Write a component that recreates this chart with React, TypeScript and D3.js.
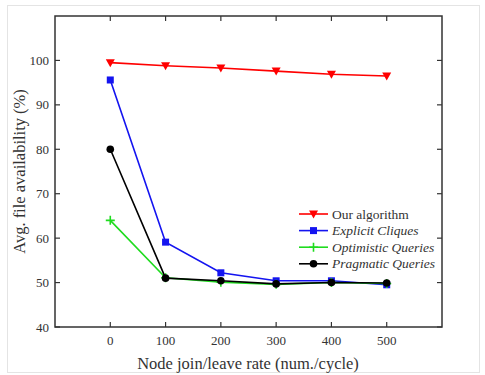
import * as d3 from "d3"
import { useEffect, useRef } from "react"

const rates = [0, 100, 200, 300, 400, 500]
const ourAlgorithm = [99.5, 98.8, 98.3, 97.6, 96.9, 96.5]
const explicitCliques = [95.6, 59.1, 52.2, 50.4, 50.4, 49.5]
const optimisticQueries = [64, 51.1, 50.1, 49.6, 50, 49.8]
const pragmaticQueries = [80, 51, 50.4, 49.7, 50, 49.9]
const yTicks = [40, 50, 60, 70, 80, 90, 100]

const series = [
  { name: "Our algorithm", values: ourAlgorithm, color: "#ff0000", marker: "tri", italic: false },
  { name: "Explicit Cliques", values: explicitCliques, color: "#1414f0", marker: "square", italic: true },
  { name: "Optimistic Queries", values: optimisticQueries, color: "#1fdc1f", marker: "plus", italic: true },
  { name: "Pragmatic Queries", values: pragmaticQueries, color: "#000000", marker: "circle", italic: true }
]

const App = () => {
  const svgRef = useRef<SVGSVGElement | null>(null)

  useEffect(() => {
    if (!svgRef.current) return
    const svg = d3.select(svgRef.current)
    svg.selectAll("*").remove()

    const left = 55
    const right = 442
    const top = 16
    const bottom = 327
    const font = "'Liberation Serif', 'Times New Roman', serif"
    const textColor = "#333"

    const x = d3.scaleLinear().domain([-100, 600]).range([left, right])
    const y = d3.scaleLinear().domain([40, 110]).range([bottom, top])

    // faint outer border of the figure
    svg
      .append("rect")
      .attr("x", 7.5)
      .attr("y", 5.5)
      .attr("width", 472)
      .attr("height", 367)
      .attr("fill", "none")
      .attr("stroke", "#e4e4e4")

    // ticks on all four sides, pointing inward
    const tickLen = 5
    const g = svg.append("g").attr("stroke", "#333").attr("stroke-width", 1.2)
    rates.forEach(r => {
      g.append("line").attr("x1", x(r)).attr("x2", x(r)).attr("y1", bottom).attr("y2", bottom - tickLen)
      g.append("line").attr("x1", x(r)).attr("x2", x(r)).attr("y1", top).attr("y2", top + tickLen)
    })
    yTicks.forEach(v => {
      g.append("line").attr("x1", left).attr("x2", left + tickLen).attr("y1", y(v)).attr("y2", y(v))
      g.append("line").attr("x1", right).attr("x2", right - tickLen).attr("y1", y(v)).attr("y2", y(v))
    })

    // frame
    svg
      .append("rect")
      .attr("x", left)
      .attr("y", top)
      .attr("width", right - left)
      .attr("height", bottom - top)
      .attr("fill", "none")
      .attr("stroke", "#333")
      .attr("stroke-width", 1.5)

    // tick labels
    svg
      .append("g")
      .selectAll("text")
      .data(rates)
      .enter()
      .append("text")
      .attr("x", d => x(d))
      .attr("y", 345)
      .attr("text-anchor", "middle")
      .style("font-family", font)
      .style("font-size", "13px")
      .style("fill", textColor)
      .text(d => d)

    svg
      .append("g")
      .selectAll("text")
      .data(yTicks)
      .enter()
      .append("text")
      .attr("x", 49)
      .attr("y", d => y(d) + 4.5)
      .attr("text-anchor", "end")
      .style("font-family", font)
      .style("font-size", "13px")
      .style("fill", textColor)
      .text(d => d)

    // axis titles
    svg
      .append("text")
      .attr("x", 248)
      .attr("y", 369)
      .attr("text-anchor", "middle")
      .style("font-family", font)
      .style("font-size", "16.5px")
      .style("fill", textColor)
      .text("Node join/leave rate (num./cycle)")

    svg
      .append("text")
      .attr("transform", `translate(25,${(top + bottom) / 2}) rotate(-90)`)
      .attr("text-anchor", "middle")
      .style("font-family", font)
      .style("font-size", "16.5px")
      .style("fill", textColor)
      .text("Avg. file availability (%)")

    const line = d3
      .line<number>()
      .x((_d, i) => x(rates[i]))
      .y(d => y(d))

    const drawMarker = (sel: d3.Selection<SVGGElement, unknown, null, undefined>, kind: string, color: string, cx: number, cy: number) => {
      if (kind === "tri") {
        sel
          .append("path")
          .attr("d", `M${cx - 4.5},${cy - 3.5}L${cx + 4.5},${cy - 3.5}L${cx},${cy + 4.5}Z`)
          .attr("fill", color)
      } else if (kind === "square") {
        sel
          .append("rect")
          .attr("x", cx - 3.5)
          .attr("y", cy - 3.5)
          .attr("width", 7)
          .attr("height", 7)
          .attr("fill", color)
      } else if (kind === "plus") {
        sel
          .append("path")
          .attr("d", `M${cx - 4.5},${cy}L${cx + 4.5},${cy}M${cx},${cy - 4.5}L${cx},${cy + 4.5}`)
          .attr("stroke", color)
          .attr("stroke-width", 1.6)
      } else {
        sel.append("circle").attr("cx", cx).attr("cy", cy).attr("r", 3.8).attr("fill", color)
      }
    }

    series.forEach(s => {
      const sg = svg.append("g")
      sg.append("path")
        .datum(s.values)
        .attr("d", line)
        .attr("fill", "none")
        .attr("stroke", s.color)
        .attr("stroke-width", 1.6)
      s.values.forEach((v, i) => drawMarker(sg, s.marker, s.color, x(rates[i]), y(v)))
    })

    // legend
    const legend = svg.append("g")
    series.forEach((s, i) => {
      const ly = 214 + i * 16.6
      const lg = legend.append("g")
      lg.append("line")
        .attr("x1", 299)
        .attr("x2", 328)
        .attr("y1", ly)
        .attr("y2", ly)
        .attr("stroke", s.color)
        .attr("stroke-width", 1.6)
      drawMarker(lg, s.marker, s.color, 313.5, ly)
      lg.append("text")
        .attr("x", 332)
        .attr("y", ly + 4.5)
        .style("font-family", font)
        .style("font-size", "13.5px")
        .style("font-style", s.italic ? "italic" : "normal")
        .style("fill", textColor)
        .text(s.name)
    })
  }, [])

  return (
    <div style={{ position: "absolute", left: 0, top: 0 }}>
      <svg ref={svgRef} width={485} height={375} style={{ display: "block", background: "#fff" }} />
    </div>
  )
}

export default App
